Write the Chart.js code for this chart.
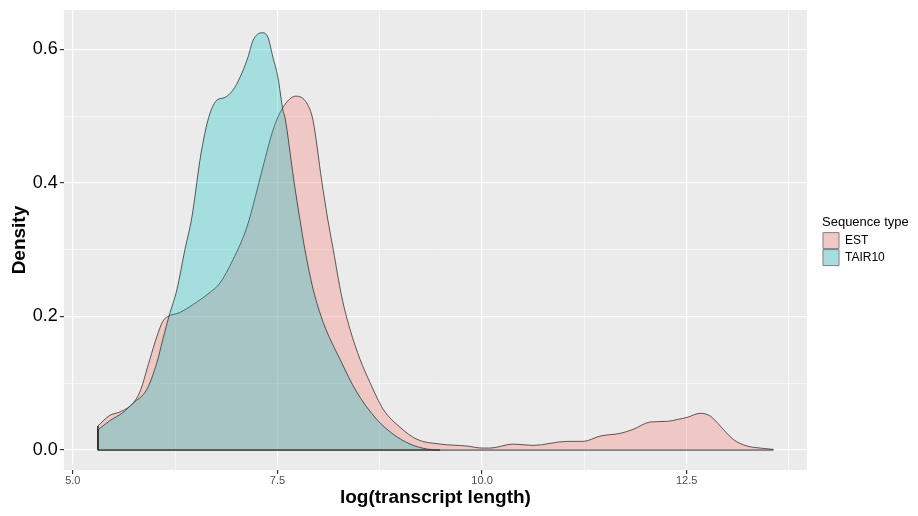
<!DOCTYPE html>
<html>
<head>
<meta charset="utf-8">
<script src="https://cdn.jsdelivr.net/npm/chart.js@4/dist/chart.umd.min.js"></script>
<style>
  body { margin: 0; background: #fff; }
  #wrap { width: 918px; height: 516px; }
</style>
</head>
<body>
<div id="wrap"><canvas id="densityChart"></canvas></div>
<script>
// EST density curve
const estX = [5.306, 5.452, 5.575, 5.733, 5.819, 5.941, 6.027, 6.100, 6.161, 6.308, 6.553, 6.675, 6.797, 6.956, 7.127, 7.323, 7.445, 7.567, 7.726, 7.861, 7.934, 8.040, 8.110, 8.182, 8.285, 8.386, 8.509, 8.631, 8.793, 9.000, 9.205, 9.487, 9.817, 10.000, 10.098, 10.379, 10.623, 11.039, 11.235, 11.443, 11.687, 11.846, 12.054, 12.262, 12.396, 12.506, 12.665, 12.787, 12.910, 13.068, 13.240, 13.399, 13.557];
const estY = [0.036, 0.052, 0.057, 0.070, 0.087, 0.136, 0.170, 0.193, 0.200, 0.206, 0.225, 0.236, 0.250, 0.285, 0.334, 0.424, 0.479, 0.513, 0.530, 0.519, 0.494, 0.404, 0.349, 0.300, 0.230, 0.181, 0.136, 0.101, 0.061, 0.034, 0.016, 0.009, 0.006, 0.003, 0.003, 0.009, 0.007, 0.013, 0.013, 0.021, 0.025, 0.031, 0.042, 0.043, 0.046, 0.049, 0.055, 0.051, 0.036, 0.016, 0.006, 0.003, 0.001];

// TAIR10 density curve
const tairX = [5.306, 5.452, 5.611, 5.733, 5.905, 6.027, 6.100, 6.174, 6.271, 6.369, 6.455, 6.553, 6.614, 6.675, 6.760, 6.858, 6.956, 7.042, 7.139, 7.200, 7.311, 7.384, 7.445, 7.506, 7.567, 7.592, 7.700, 7.775, 7.836, 7.938, 8.060, 8.264, 8.468, 8.713, 8.912, 9.120, 9.328, 9.487];
const tairY = [0.030, 0.044, 0.056, 0.070, 0.091, 0.131, 0.166, 0.200, 0.240, 0.300, 0.349, 0.434, 0.475, 0.504, 0.524, 0.528, 0.539, 0.558, 0.588, 0.613, 0.625, 0.618, 0.588, 0.558, 0.509, 0.498, 0.404, 0.345, 0.300, 0.240, 0.191, 0.136, 0.087, 0.046, 0.024, 0.009, 0.0015, 0.000];

const seriesNames = ["EST", "TAIR10"];
const xTickLabels = [5.0, 7.5, 10.0, 12.5];
const yTickLabels = [0.0, 0.2, 0.4, 0.6];

function pts(xs, ys) {
    return xs.map(function (x, i) { return { x: x, y: ys[i] }; });
}
// closes the polygon: vertical edges and baseline, like ggplot draws it
function outline(xs, ys) {
    const n = xs.length - 1;
    return [
        { x: xs[0], y: ys[0] }, { x: xs[0], y: 0 },
        { x: xs[n], y: 0 }, { x: xs[n], y: ys[n] },
    ];
}

const panelBg = {
    id: "panelBg",
    beforeDraw: function (chart) {
        const a = chart.chartArea;
        const ctx = chart.ctx;
        ctx.save();
        ctx.fillStyle = "#EBEBEB";
        ctx.fillRect(a.left, a.top, a.right - a.left, a.bottom - a.top);
        ctx.restore();
    },
};

// legend is only as wide as its labels; the title needs more room
const legendWidth = {
    id: "legendWidth",
    beforeLayout: function (chart) {
        const lg = chart.legend;
        if (!lg || lg._widened) return;
        const upd = lg.update.bind(lg);
        lg.update = function (w, h, m) {
            upd(w, h, m);
            this.width = Math.max(this.width, 94);
        };
        lg._widened = true;
    },
};

const keyFill = { EST: "#F0C8C6", TAIR10: "#A6DEDF" };

function isMajor(v, list) {
    return list.some(function (t) { return Math.abs(t - v) < 1e-6; });
}

const ctx = document.getElementById("densityChart").getContext("2d");
new Chart(ctx, {
    type: "line",
    data: {
        datasets: [
            {
                label: seriesNames[0],
                data: pts(estX, estY),
                backgroundColor: "rgba(248,118,109,0.3)",
                borderColor: "#333333",
                borderWidth: 0.8,
                fill: "origin",
                pointRadius: 0,
                cubicInterpolationMode: "monotone",
                order: 2,
            },
            {
                label: seriesNames[1],
                data: pts(tairX, tairY),
                backgroundColor: "rgba(0,191,196,0.3)",
                borderColor: "#333333",
                borderWidth: 0.8,
                fill: "origin",
                pointRadius: 0,
                cubicInterpolationMode: "monotone",
                order: 1,
            },
            {
                label: "",
                data: outline(estX, estY),
                borderColor: "#333333",
                borderWidth: 1,
                fill: false,
                pointRadius: 0,
                tension: 0,
                order: 0,
            },
            {
                label: "",
                data: outline(tairX, tairY),
                borderColor: "#333333",
                borderWidth: 1,
                fill: false,
                pointRadius: 0,
                tension: 0,
                order: 0,
            },
        ],
    },
    options: {
        responsive: true,
        maintainAspectRatio: false,
        animation: false,
        layout: { padding: { left: 8, right: 2, top: 10, bottom: 8 } },
        plugins: {
            tooltip: { enabled: false },
            legend: {
                position: "right",
                align: "start",
                title: {
                    display: true,
                    text: "Sequence type",
                    color: "#000",
                    position: "start",
                    font: { family: "Arial", size: 13 },
                    padding: { top: 206, bottom: 0, left: 1 },
                },
                labels: {
                    boxWidth: 16,
                    boxHeight: 16,
                    padding: 1,
                    color: "#000",
                    font: { family: "Arial", size: 12 },
                    filter: function (item) { return item.text !== ""; },
                    sort: function (a, b) { return a.datasetIndex - b.datasetIndex; },
                    generateLabels: function (chart) {
                        const items = Chart.defaults.plugins.legend.labels.generateLabels(chart);
                        items.forEach(function (it) {
                            if (keyFill[it.text]) it.fillStyle = keyFill[it.text];
                            it.strokeStyle = "#7F7F7F";
                            it.lineWidth = 1;
                        });
                        return items;
                    },
                },
            },
        },
        scales: {
            x: {
                type: "linear",
                min: 4.89,
                max: 13.97,
                border: { display: false },
                grid: {
                    color: "#FFFFFF",
                    lineWidth: function (c) { return isMajor(c.tick.value, xTickLabels) ? 1.2 : 0.6; },
                    tickColor: function (c) { return isMajor(c.tick.value, xTickLabels) ? "#333333" : "rgba(0,0,0,0)"; },
                    tickLength: 4,
                },
                ticks: {
                    stepSize: 1.25,
                    includeBounds: false,
                    autoSkip: false,
                    maxRotation: 0,
                    padding: 1,
                    color: "#4D4D4D",
                    font: { family: "Arial", size: 11, lineHeight: 1.0 },
                    callback: function (v) { return isMajor(v, xTickLabels) ? v.toFixed(1) : ""; },
                },
                title: {
                    display: true,
                    text: "log(transcript length)",
                    color: "#000",
                    font: { family: "Arial", size: 19, weight: "bold", lineHeight: 1.1 },
                    padding: { top: 0, bottom: 0 },
                },
            },
            y: {
                type: "linear",
                min: -0.030,
                max: 0.659,
                border: { display: false },
                grid: {
                    color: "#FFFFFF",
                    lineWidth: function (c) { return isMajor(c.tick.value, yTickLabels) ? 1.2 : 0.6; },
                    tickColor: function (c) { return isMajor(c.tick.value, yTickLabels) ? "#333333" : "rgba(0,0,0,0)"; },
                    tickLength: 4,
                },
                ticks: {
                    stepSize: 0.1,
                    includeBounds: false,
                    autoSkip: false,
                    padding: 2,
                    color: "#000",
                    font: { family: "Arial", size: 18, lineHeight: 0.8 },
                    callback: function (v) { return isMajor(v, yTickLabels) ? v.toFixed(1) : ""; },
                },
                title: {
                    display: true,
                    text: "Density",
                    color: "#000",
                    font: { family: "Arial", size: 19, weight: "bold" },
                    padding: { top: 0, bottom: 0 },
                },
            },
            // empty axis: leaves the gap between panel and legend
            gap: {
                type: "linear",
                position: "right",
                display: true,
                grid: { display: false, drawTicks: false },
                ticks: { display: false },
                border: { display: false },
                afterFit: function (s) { s.width = 15; },
            },
        },
    },
    plugins: [panelBg, legendWidth],
});
</script>
</body>
</html>
